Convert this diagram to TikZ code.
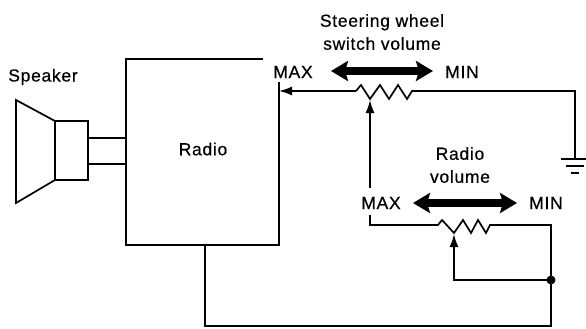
\documentclass[tikz,border=0pt]{standalone}
\usepackage{fontspec}
\setmainfont{Liberation Sans}
\newfontfamily\lblfont{Liberation Sans}[LetterSpace=4, FakeBold=0.5]
\usetikzlibrary{arrows.meta}
\begin{document}
\begin{tikzpicture}[x=1pt,y=-1pt,
  wire/.style={line width=1.7pt, line join=miter},
  tip/.style={-{Latex[length=13pt,width=9pt]}},
  bigarrow/.style={line width=8pt, {Stealth[length=17pt,width=20pt,inset=3pt]}-{Stealth[length=17pt,width=20pt,inset=3pt]}},
  lbl/.style={font=\lblfont\fontsize{17.5}{23}\selectfont, inner sep=0pt, align=center}]
\useasboundingbox (0,0) rectangle (586,329);
\fill[white] (0,0) rectangle (586,329);

% texts
\node[lbl] (spk) at (43,77) {Speaker};
\node[lbl] (radio) at (203,149) {Radio};
\node[lbl] (sw) at (382,32) {Steering wheel\\switch volume};
\node[lbl] (max1) at (293,72) {MAX};
\node[lbl] (min1) at (462,72) {MIN};
\node[lbl] (rv) at (460,165) {Radio\\volume};
\node[lbl] (max2) at (381,203) {MAX};
\node[lbl] (min2) at (546,203) {MIN};

% speaker
\coordinate (c1) at (16,100);
\coordinate (c2) at (55,121);
\coordinate (c3) at (55,180);
\coordinate (c4) at (16,203);
\coordinate (m2) at (88,180);
\draw[wire] (c1) -- (c2) -- (c3) -- (c4) -- cycle;
\draw[wire] (c2) rectangle (m2);
\coordinate (s1a) at (88,138);
\coordinate (s1b) at (126,138);
\coordinate (s2a) at (88,164);
\coordinate (s2b) at (126,164);
\draw[wire] (s1a) -- (s1b);
\draw[wire] (s2a) -- (s2b);

% radio box (open top-right corner)
\coordinate (bt) at (263,59);
\coordinate (btl) at (126,59);
\coordinate (bbl) at (126,245);
\coordinate (bbr) at (279,245);
\coordinate (bbtr) at (279,82);
\draw[wire] (bt) -- (btl) -- (bbl) -- (bbr) -- (bbtr);

% upper pot
\coordinate (in1) at (279,91);
\coordinate (p1s) at (356,91);
\coordinate (p1e) at (412,91);
\coordinate (gnd) at (575,159);
\draw[wire] (gnd) |- (p1e)
  -- (407,99) -- (398,85) -- (389,99) -- (380,85) -- (370,99) -- (361,85) -- (p1s);
\draw[wire, tip] (p1s) -- (in1);
% ground
\coordinate (g1a) at (561,159); \coordinate (g1b) at (589,159);
\coordinate (g2a) at (566,166); \coordinate (g2b) at (584,166);
\coordinate (g3a) at (571,173); \coordinate (g3b) at (579,173);
\draw[wire] (g1a) -- (g1b);
\draw[wire] (g2a) -- (g2b);
\draw[wire] (g3a) -- (g3b);

% wiper of upper pot
\coordinate (w1a) at (370,188);
\coordinate (w1t) at (370,100);
\draw[wire, tip] (w1a) -- (w1t);

% lower pot
\coordinate (l1) at (370,215);
\coordinate (l2) at (370,225);
\coordinate (p2s) at (438,225);
\coordinate (p2e) at (490,225);
\coordinate (r1) at (551,225);
\coordinate (dot) at (551,280);
\coordinate (r2) at (551,326);
\coordinate (b2) at (205,326);
\coordinate (b1) at (205,245);
\draw[wire] (l1) -- (l2) -- (p2s) -- (442,220) -- (454,233) -- (463,220) -- (471,233) -- (478,220) -- (486,233) -- (p2e) -- (r1) -- (r2) -- (b2) -- (b1);
\coordinate (w2b) at (454,280);
\coordinate (w2t) at (454,234);
\draw[wire, tip] (dot) -- (w2b) -- (w2t);
\fill (dot) circle (4.5pt);

% thick double arrows
\coordinate (a1l) at (331,71);
\coordinate (a1r) at (433,71);
\draw[bigarrow] (a1l) -- (a1r);
\coordinate (a2l) at (413,203);
\coordinate (a2r) at (517,203);
\draw[bigarrow] (a2l) -- (a2r);
\end{tikzpicture}
\end{document}
